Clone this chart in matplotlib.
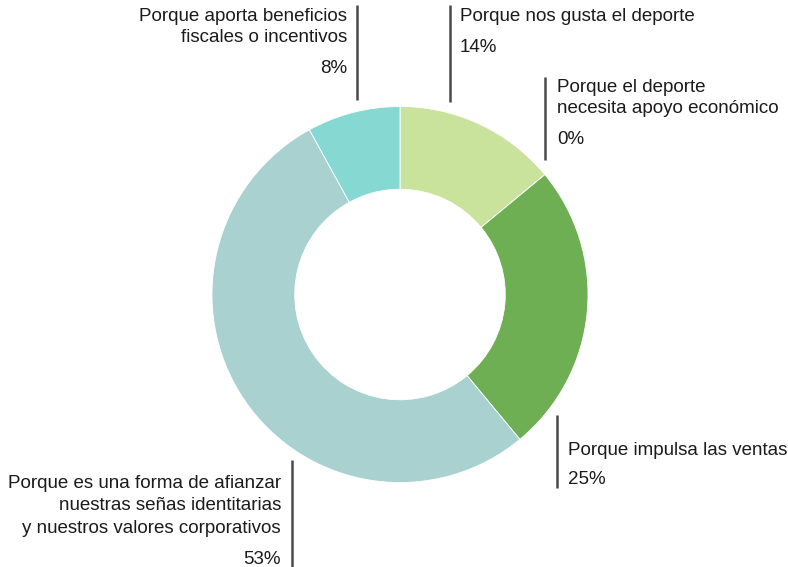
import matplotlib
matplotlib.use("Agg")
import matplotlib.pyplot as plt

# shares, clockwise from 12 o'clock
labels = [
    "Porque nos gusta el deporte",
    "Porque el deporte\nnecesita apoyo económico",
    "Porque impulsa las ventas",
    "Porque es una forma de afianzar\nnuestras señas identitarias\ny nuestros valores corporativos",
    "Porque aporta beneficios\nfiscales o incentivos",
]
values = [14, 0, 25, 53, 8]
colors = ["#c9e29c", "#6daf52", "#6daf52", "#a8d1d0", "#86d8d2"]

W, H = 788, 567
plt.rcParams["font.family"] = ["Liberation Sans", "DejaVu Sans"]

fig = plt.figure(figsize=(W / 100, H / 100), dpi=100)
ax = fig.add_axes([0, 0, 1, 1])

# pixel-like coordinates, y grows downward
cx, cy, R = 400, 294.5, 188
ax.pie(values, colors=colors, startangle=-90, counterclock=True,
       center=(cx, cy), radius=R, frame=True,
       wedgeprops=dict(width=R * 0.44, edgecolor="white", linewidth=0.6))
ax.set_xlim(0, W)
ax.set_ylim(H, 0)
ax.set_aspect("equal")
ax.axis("off")

# leader bar beside each label: (x, y_top, y_bottom)
bars = [(450, 5, 102), (545, 77, 160), (557, 415, 488), (292, 460, 567), (357, 5, 100)]
# text anchor: (x, first baseline, line step, percent baseline, alignment)
spots = [(460, 21, 21, 52, "left"), (557, 92, 21, 144, "left"),
         (568, 455, 21, 484, "left"), (281, 488, 22.5, 564, "right"),
         (347, 21, 21, 73, "right")]

tc = "#1c1a1b"
fs = 13.5
for lab, v, (bx, y0, y1), (tx, ty, step, py, ha) in zip(labels, values, bars, spots):
    ax.plot([bx, bx], [y0, y1], color="#4a4a4a", lw=1.8, solid_capstyle="butt")
    for i, line in enumerate(lab.split("\n")):
        ax.text(tx, ty + i * step, line, ha=ha, va="baseline", fontsize=fs, color=tc)
    ax.text(tx, py, f"{v}%", ha=ha, va="baseline", fontsize=fs, color=tc)

fig.savefig("out.png", dpi=100)
